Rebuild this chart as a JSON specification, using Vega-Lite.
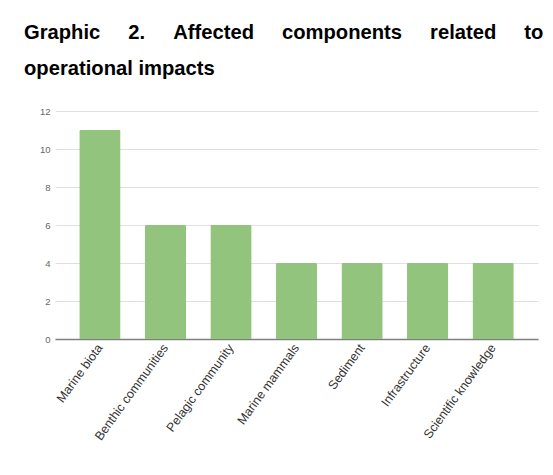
{
  "$schema": "https://vega.github.io/schema/vega-lite/v6.json",
  "autosize": "none",
  "width": 483,
  "height": 228,
  "padding": {"left": 55, "top": 111, "right": 15, "bottom": 136},
  "background": "white",
  "title": {
    "text": ["Graphic\u00a0\u00a0\u00a0\u00a0\u00a02.\u00a0\u00a0\u00a0\u00a0\u00a0Affected\u00a0\u00a0\u00a0\u00a0\u00a0components\u00a0\u00a0\u00a0\u00a0\u00a0related\u00a0\u00a0\u00a0\u00a0\u00a0to", "operational impacts"],
    "anchor": "start",
    "frame": "group",
    "dx": -31,
    "offset": 27,
    "font": "Liberation Sans",
    "fontSize": 20.2,
    "fontWeight": "bold",
    "color": "#000000",
    "lineHeight": 36
  },
  "data": {
    "values": [
      {"component": "Marine biota", "count": 11},
      {"component": "Benthic communities", "count": 6},
      {"component": "Pelagic community", "count": 6},
      {"component": "Marine mammals", "count": 4},
      {"component": "Sediment", "count": 4},
      {"component": "Infrastructure", "count": 4},
      {"component": "Scientific knowledge", "count": 4}
    ]
  },
  "config": {"view": {"stroke": null}},
  "mark": {"type": "bar", "color": "#93c47d", "cornerRadiusTopLeft": 1.5, "cornerRadiusTopRight": 1.5},
  "encoding": {
    "x": {
      "field": "component",
      "type": "nominal",
      "sort": null,
      "scale": {"paddingInner": 0.37, "paddingOuter": 0.37},
      "axis": {
        "title": null,
        "labelAngle": -54,
        "labelFont": "Liberation Sans",
        "labelFontSize": 12.5,
        "labelColor": "#333333",
        "labelPadding": 6,
        "labelOverlap": false,
        "ticks": false,
        "domain": true,
        "domainColor": "#7f7f7f",
        "domainWidth": 1.5
      }
    },
    "y": {
      "field": "count",
      "type": "quantitative",
      "scale": {"domain": [0, 12]},
      "axis": {
        "title": null,
        "values": [0, 2, 4, 6, 8, 10, 12],
        "labelOverlap": false,
        "labelFont": "Liberation Sans",
        "labelFontSize": 9.5,
        "labelColor": "#666666",
        "labelPadding": 5,
        "ticks": false,
        "domain": false,
        "gridColor": "#e0e0e0",
        "gridWidth": 1.2
      }
    }
  }
}
